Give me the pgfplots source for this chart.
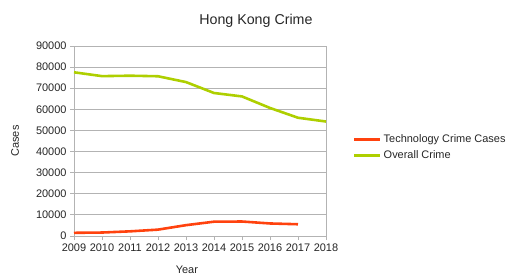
\documentclass[border=0pt]{standalone}
\usepackage{pgfplots}
\pgfplotsset{compat=1.18}
\usepackage{fontspec}
\setmainfont{Liberation Sans}
\definecolor{techred}{HTML}{FF420E}
\definecolor{overgreen}{HTML}{AECF00}
\definecolor{gridgray}{HTML}{B3B3B3}
\begin{document}
\begin{tikzpicture}
\path[use as bounding box] (-74bp,-39bp) rectangle (438bp,236bp);
\begin{axis}[
  at={(0,0)}, anchor=south west,
  scale only axis, width=252bp, height=190bp,
  xmin=2009, xmax=2018, ymin=0, ymax=90000,
  xtick={2009,...,2018}, ytick={0,10000,...,90000},
  xticklabel style={/pgf/number format/1000 sep={}},
  yticklabel style={/pgf/number format/1000 sep={}, /pgf/number format/fixed},
  scaled y ticks=false,
  /pgf/number format/assume math mode=true,
  ticklabel style={font=\fontsize{11}{13}\selectfont, text=black!85},
  tick align=outside, major tick length=4bp,
  tick style={gridgray, line width=0.8pt},
  xtick pos=bottom, ytick pos=left,
  ymajorgrids, grid style={gridgray, line width=0.8pt},
  axis line style={gridgray, line width=0.8pt},
  title={Hong Kong Crime},
  title style={font=\fontsize{14.3}{16}\selectfont, at={(axis description cs:0.722,1.084)}, anchor=base, text=black!85, inner sep=0pt},
  xlabel={Year}, ylabel={Cases},
  xlabel style={font=\fontsize{11}{13}\selectfont, at={(axis description cs:0.448,-0.2)}, anchor=base, text=black!85, inner sep=0pt},
  ylabel style={font=\fontsize{11}{13}\selectfont, at={(axis description cs:-0.234,0.5)}, anchor=center, rotate=0, text=black!85},
  legend style={draw=none, fill=none, at={(axis description cs:1.107,0.466)}, anchor=west, font=\fontsize{11}{13}\selectfont, text=black!85, row sep=2.5bp, inner sep=0pt},
  legend cell align=left,
  legend image code/.code={\draw[#1, line width=2.6pt] (0bp,0bp) -- (26bp,0bp);},
  clip=false,
]
\addplot[techred, line width=2.6pt, line join=round] coordinates {
 (2009,1506) (2010,1643) (2011,2206) (2012,3015) (2013,5133) (2014,6778) (2015,6862) (2016,5939) (2017,5567)};
\addlegendentry{Technology Crime Cases}
\addplot[overgreen, line width=2.6pt, line join=round] coordinates {
 (2009,77548) (2010,75725) (2011,75930) (2012,75668) (2013,72911) (2014,67740) (2015,66109) (2016,60646) (2017,56017) (2018,54225)};
\addlegendentry{Overall Crime}
\end{axis}
\end{tikzpicture}
\end{document}
